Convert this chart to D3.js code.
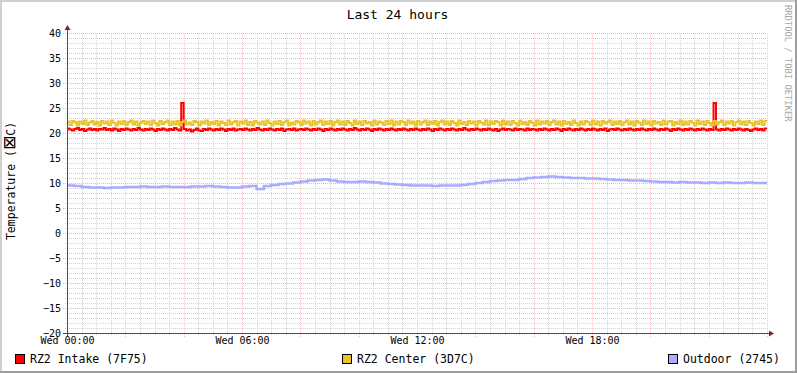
<!DOCTYPE html>
<html><head><meta charset="utf-8">
<script src="https://cdn.jsdelivr.net/npm/d3@7"></script>
<style>
body{margin:0;background:#fff}
svg{display:block}
text{font-family:"DejaVu Sans Mono",monospace}
</style>
</head><body>
<svg id="c" width="797" height="373"></svg>
<script>
const titleText = "Last 24 hours";
const yLabelParts = ["Temperature (", "⊠", "C)"];
const watermarkText = "RRDTOOL / TOBI OETIKER";
const seriesNames = ["RZ2 Intake (7F75)", "RZ2 Center (3D7C)", "Outdoor (2745)"];
const seriesColors = ["#FF0000", "#EAC22A", "#AAAAFF"];
const yTicks = [40, 35, 30, 25, 20, 15, 10, 5, 0, -5, -10, -15, -20];
const xTickHours = [0, 6, 12, 18];
const xTickLabels = ["Wed 00:00", "Wed 06:00", "Wed 12:00", "Wed 18:00"];

// 5-minute samples (one row per hour)
const intake = [
  20.9, 20.7, 20.5, 20.8, 21.0, 20.6, 20.8, 20.4, 20.7, 20.9, 20.6, 20.8,
  20.5, 20.8, 20.7, 21.0, 20.6, 20.8, 20.5, 20.9, 20.7, 20.4, 20.8, 20.6,
  20.9, 20.7, 20.5, 20.8, 20.6, 21.0, 20.7, 20.5, 20.8, 20.6, 20.9, 20.7,
  20.4, 20.8, 20.6, 20.9, 20.7, 20.5, 20.8, 20.6, 21.0, 20.7, 20.5, 26.0,
  20.8, 20.5, 20.7, 20.3, 20.6, 20.9, 20.5, 20.4, 20.8, 20.6, 20.9, 20.7,
  20.5, 20.8, 20.6, 20.9, 20.7, 20.4, 20.8, 20.6, 20.9, 20.5, 20.7, 20.8,
  20.6, 20.9, 20.7, 20.5, 20.8, 20.6, 21.0, 20.7, 20.5, 20.8, 20.6, 20.9,
  20.7, 20.5, 20.8, 20.6, 20.9, 20.4, 20.7, 20.8, 20.6, 20.9, 20.5, 20.7,
  20.8, 20.6, 20.9, 20.7, 20.5, 20.8, 20.6, 20.9, 20.7, 20.4, 20.8, 20.6,
  20.9, 20.7, 20.5, 20.8, 20.6, 20.9, 20.7, 20.5, 20.8, 20.6, 21.0, 20.7,
  20.5, 20.8, 20.6, 20.9, 20.7, 20.4, 20.8, 20.6, 20.9, 20.7, 20.5, 20.8,
  20.6, 20.9, 20.7, 20.5, 20.8, 20.6, 20.9, 20.7, 20.5, 20.8, 20.6, 20.9,
  20.7, 20.5, 20.8, 20.6, 20.9, 20.7, 20.4, 20.8, 20.6, 20.9, 20.7, 20.5,
  20.8, 20.6, 20.9, 20.7, 20.5, 20.8, 20.6, 21.0, 20.7, 20.5, 20.8, 20.6,
  20.9, 20.7, 20.5, 20.8, 20.6, 20.9, 20.7, 20.5, 20.8, 20.4, 20.7, 20.9,
  20.6, 20.8, 20.7, 20.5, 20.9, 20.6, 20.8, 20.7, 20.5, 20.9, 20.6, 20.8,
  20.7, 20.5, 20.8, 20.6, 20.9, 20.7, 20.5, 20.8, 20.6, 20.9, 20.7, 20.4,
  20.8, 20.6, 20.9, 20.7, 20.5, 20.8, 20.6, 20.9, 20.7, 20.5, 20.8, 20.6,
  20.9, 20.7, 20.5, 20.8, 20.6, 20.9, 20.4, 20.7, 20.8, 20.6, 20.9, 20.7,
  20.5, 20.8, 20.6, 20.9, 20.7, 20.5, 20.8, 20.6, 20.9, 20.7, 20.5, 20.8,
  20.6, 20.9, 20.7, 20.5, 20.8, 20.6, 20.9, 20.7, 20.4, 20.8, 20.6, 20.9,
  20.7, 20.5, 20.8, 20.6, 20.9, 20.7, 20.5, 20.8, 20.6, 20.9, 20.7, 20.5,
  20.8, 20.6, 26.0, 20.7, 20.5, 20.8, 20.6, 20.9, 20.7, 20.5, 20.8, 20.6,
  20.9, 20.7, 20.5, 20.8, 20.6, 20.4, 20.7, 20.9, 20.6, 20.8, 20.5, 20.9
];
const center = [
  22.3, 21.6, 22.4, 22.2, 21.5, 22.3, 21.8, 22.5, 21.6, 22.1, 22.4, 21.7,
  22.2, 21.5, 22.4, 21.9, 22.3, 21.6, 22.5, 22.0, 21.5, 22.3, 21.8, 22.4,
  21.6, 22.2, 22.5, 21.7, 22.3, 21.5, 22.1, 22.4, 21.8, 22.3, 21.6, 22.5,
  22.0, 21.5, 22.4, 21.8, 22.2, 22.5, 21.6, 22.3, 21.7, 22.4, 21.5, 22.2,
  22.5, 21.7, 22.1, 21.6, 22.4, 22.2, 21.5, 22.3, 21.9, 22.5, 21.6, 22.2,
  21.8, 22.4, 21.5, 22.3, 22.0, 21.6, 22.5, 21.7, 22.2, 22.4, 21.5, 22.3,
  21.9, 22.5, 21.6, 22.2, 21.5, 22.4, 22.1, 21.7, 22.3, 21.6, 22.5, 22.0,
  21.5, 22.3, 21.8, 22.4, 21.6, 22.2, 22.5, 21.5, 22.1, 21.7, 22.4, 22.2,
  21.6, 22.5, 21.9, 22.3, 21.5, 22.4, 21.7, 22.2, 22.5, 21.6, 22.3, 21.8,
  22.4, 21.5, 22.2, 22.5, 21.7, 22.3, 21.6, 22.4, 22.0, 21.5, 22.5, 21.8,
  22.3, 21.6, 22.4, 21.9, 22.2, 21.5, 22.5, 21.7, 22.3, 22.1, 21.6, 22.4,
  21.8, 22.5, 21.5, 22.3, 21.7, 22.4, 22.2, 21.6, 22.5, 21.9, 22.3, 21.5,
  22.4, 21.7, 22.2, 22.5, 21.6, 22.3, 21.8, 22.4, 21.5, 22.2, 22.5, 21.7,
  22.3, 21.6, 22.4, 22.0, 21.5, 22.5, 21.8, 22.2, 21.6, 22.4, 21.9, 22.3,
  21.5, 22.4, 22.1, 21.7, 22.5, 21.6, 22.3, 21.8, 22.4, 22.2, 21.5, 22.5,
  21.7, 22.3, 21.6, 22.4, 22.0, 21.5, 22.5, 21.8, 22.2, 21.6, 22.4, 22.1,
  21.5, 22.5, 21.7, 22.3, 21.9, 22.4, 21.6, 22.2, 22.5, 21.7, 22.3, 21.5,
  22.4, 21.8, 22.2, 21.6, 22.5, 22.0, 21.5, 22.3, 21.7, 22.4, 22.2, 21.6,
  22.5, 21.7, 22.3, 21.5, 22.4, 21.9, 22.2, 22.5, 21.6, 22.3, 21.8, 22.4,
  21.6, 22.2, 22.5, 21.7, 22.3, 21.5, 22.4, 22.1, 21.6, 22.5, 21.8, 22.3,
  21.5, 22.4, 21.9, 22.2, 21.6, 22.5, 21.7, 22.3, 22.4, 21.5, 22.2, 21.8,
  22.5, 21.6, 22.3, 21.7, 22.4, 22.1, 21.5, 22.5, 21.8, 22.3, 21.6, 22.4,
  22.0, 21.5, 22.4, 21.7, 22.2, 22.5, 21.6, 22.3, 21.9, 22.4, 21.5, 22.2,
  22.5, 21.7, 22.3, 21.6, 22.4, 22.0, 21.5, 22.3, 21.8, 22.5, 21.6, 22.4
];
// 15-minute samples (one row per 2 hours)
const outdoor = [
  9.5, 9.4, 9.2, 9.1, 9.1, 9.0, 9.1, 9.1,
  9.2, 9.2, 9.3, 9.2, 9.2, 9.3, 9.2, 9.2,
  9.2, 9.3, 9.3, 9.4, 9.3, 9.2, 9.1, 9.1,
  9.3, 9.4, 8.8, 9.4, 9.6, 9.8, 9.9, 10.1,
  10.3, 10.5, 10.6, 10.7, 10.5, 10.3, 10.2, 10.2,
  10.3, 10.2, 10.1, 9.9, 9.8, 9.7, 9.6, 9.5,
  9.5, 9.5, 9.4, 9.5, 9.5, 9.5, 9.6, 9.8,
  10.0, 10.2, 10.4, 10.5, 10.6, 10.6, 10.8, 11.0,
  11.1, 11.2, 11.3, 11.2, 11.1, 11.0, 11.0, 10.9,
  10.9, 10.8, 10.7, 10.6, 10.6, 10.5, 10.5, 10.4,
  10.3, 10.2, 10.2, 10.1, 10.2, 10.1, 10.1, 10.0,
  10.1, 10.0, 10.1, 10.0, 10.0, 10.1, 10.0, 10.0
];

const W = 797, H = 373;
const svg = d3.select("#c");
const start = new Date(2024, 0, 3, 0, 0, 0); // a Wednesday
const end = d3.timeHour.offset(start, 24);

const x = d3.scaleTime().domain([start, end]).range([67, 767]);
const y = d3.scaleLinear().domain([-20, 40]).range([333, 33]);

// background & 3D border
svg.append("rect").attr("width", W).attr("height", H).attr("fill", "#fff");
svg.append("rect").attr("x", 0).attr("y", 0).attr("width", W).attr("height", 2).attr("fill", "#CFCFCF");
svg.append("rect").attr("x", 0).attr("y", 0).attr("width", 2).attr("height", H).attr("fill", "#CFCFCF");
svg.append("rect").attr("x", 0).attr("y", H - 2).attr("width", W).attr("height", 2).attr("fill", "#9E9E9E");
svg.append("rect").attr("x", W - 2).attr("y", 0).attr("width", 2).attr("height", H).attr("fill", "#9E9E9E");

// grid
const g = svg.append("g").attr("shape-rendering", "crispEdges");
const minorY = d3.range(-20, 41, 1).filter(v => v % 5 !== 0);
const minorX = d3.timeMinute.every(30).range(start, d3.timeMinute.offset(end, 1)).filter(d => d.getMinutes() !== 0 || d.getHours() % 2 !== 0);
const majorX = d3.timeHour.every(2).range(start, d3.timeMinute.offset(end, 1));
const minorCol = "#D2D2D2", majorColH = "#EDB2B2", majorColV = "#F2C6C6";
g.selectAll(".mny").data(minorY).join("line")
  .attr("x1", 65).attr("x2", x(end)).attr("y1", d => Math.round(y(d)) + 0.5).attr("y2", d => Math.round(y(d)) + 0.5)
  .attr("stroke", minorCol).attr("stroke-dasharray", "1,1");
g.selectAll(".mnx").data(minorX).join("line")
  .attr("y1", 335).attr("y2", y(40)).attr("x1", d => Math.round(x(d)) + 0.5).attr("x2", d => Math.round(x(d)) + 0.5)
  .attr("stroke", minorCol).attr("stroke-dasharray", "1,1");
g.selectAll(".mjy").data(yTicks).join("line")
  .attr("x1", 63).attr("x2", x(end)).attr("y1", d => Math.round(y(d)) + 0.5).attr("y2", d => Math.round(y(d)) + 0.5)
  .attr("stroke", majorColH).attr("stroke-dasharray", "1,1");
g.selectAll(".mjx").data(majorX).join("line")
  .attr("y1", 337).attr("y2", y(40)).attr("x1", d => Math.round(x(d)) + 0.5).attr("x2", d => Math.round(x(d)) + 0.5)
  .attr("stroke", majorColV).attr("stroke-dasharray", "1,1");

// data
function pts(vals, stepMin) {
  const p = vals.map((v, i) => [d3.timeMinute.offset(start, i * stepMin), v]);
  p.push([end, vals[vals.length - 1]]);
  return p;
}
const line = d3.line().x(d => x(d[0])).y(d => y(d[1])).curve(d3.curveStepAfter);
const series = [
  { vals: intake, step: 5, w: 2 },
  { vals: center, step: 5, w: 2 },
  { vals: outdoor, step: 15, w: 2.5 }
];
series.forEach((s, i) => {
  svg.append("path").datum(pts(s.vals, s.step)).attr("d", line)
    .attr("fill", "none").attr("stroke", seriesColors[i]).attr("stroke-width", s.w)
    .attr("stroke-linejoin", "miter");
});

// axes lines and arrows
const axisCol = "#5E4646", arrowCol = "#8E1E1E";
svg.append("line").attr("x1", x(start) + 0.5).attr("x2", x(start) + 0.5).attr("y1", 337).attr("y2", 29)
  .attr("stroke", axisCol).attr("shape-rendering", "crispEdges");
svg.append("line").attr("x1", 63).attr("x2", 770).attr("y1", y(-20) + 0.5).attr("y2", y(-20) + 0.5)
  .attr("stroke", axisCol).attr("shape-rendering", "crispEdges");
const ax0 = x(start) + 0.5, ay0 = y(-20) + 0.5;
svg.append("path").attr("d", `M${ax0 - 3},${30} L${ax0 + 3},${30} L${ax0},${25} Z`).attr("fill", arrowCol);
svg.append("path").attr("d", `M${769},${ay0 - 3} L${769},${ay0 + 3} L${774},${ay0} Z`).attr("fill", arrowCol);

// y axis labels
const yAxis = d3.axisLeft(y).tickValues(yTicks).tickSize(0).tickPadding(6).tickFormat(d3.format("d"));
const ya = svg.append("g").attr("transform", `translate(${x(start)},0)`).call(yAxis);
ya.select(".domain").remove();
ya.selectAll("text").attr("font-family", "DejaVu Sans Mono").attr("font-size", 10).attr("fill", "#000").attr("dy", "0.36em");

// x axis labels
const xAxis = d3.axisBottom(x).tickValues(xTickHours.map(h => d3.timeHour.offset(start, h))).tickSize(0).tickPadding(4)
  .tickFormat((d, i) => xTickLabels[i]);
const xa = svg.append("g").attr("transform", `translate(0,${y(-20)})`).call(xAxis);
xa.select(".domain").remove();
xa.selectAll("text").attr("font-family", "DejaVu Sans Mono").attr("font-size", 10).attr("fill", "#000");

// title
svg.append("text").attr("x", 397.5).attr("y", 19).attr("text-anchor", "middle")
  .attr("font-size", 13).attr("fill", "#000").text(titleText);

// y label
const yl = svg.append("text").attr("transform", "translate(15,181) rotate(-90)").attr("text-anchor", "middle")
  .attr("font-size", 11.5).attr("fill", "#000");
yl.append("tspan").text(yLabelParts[0]);
yl.append("tspan").attr("font-family", "DejaVu Sans").attr("font-size", 17).text(yLabelParts[1]);
yl.append("tspan").text(yLabelParts[2]);

// watermark
svg.append("text").attr("transform", "translate(785,5) rotate(90)").attr("text-anchor", "start")
  .attr("font-size", 8.8).attr("fill", "#A8A8A8").text(watermarkText);

// legend
const legendX = [15, 342, 668];
seriesNames.forEach((n, i) => {
  svg.append("rect").attr("x", legendX[i] + 0.5).attr("y", 354.5).attr("width", 9).attr("height", 9)
    .attr("fill", seriesColors[i]).attr("stroke", "#000").attr("shape-rendering", "crispEdges");
  svg.append("text").attr("x", legendX[i] + 15).attr("y", 363).attr("font-size", 11.5).attr("fill", "#000").text(n);
});
</script>
</body></html>
